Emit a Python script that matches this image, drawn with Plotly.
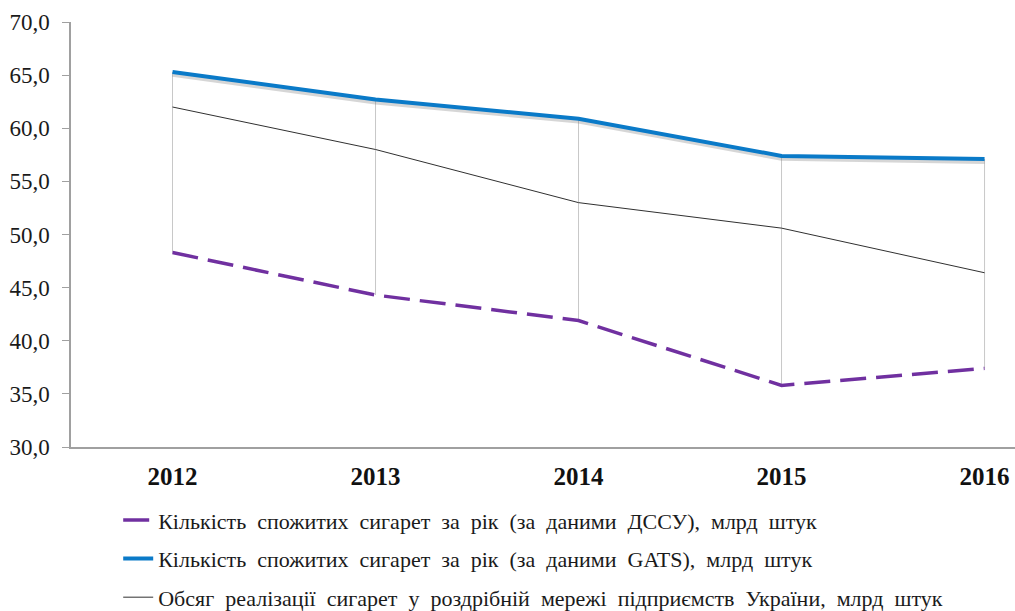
import plotly.graph_objects as go

years = ["2012", "2013", "2014", "2015", "2016"]
dssu = [48.3, 44.3, 41.9, 35.8, 37.4]
gats = [65.3, 62.7, 60.9, 57.4, 57.1]
retail = [62.0, 58.0, 53.0, 50.6, 46.4]
y_ticks = [30, 35, 40, 45, 50, 55, 60, 65, 70]

names = [
    "Кількість  спожитих  сигарет  за  рік  (за  даними  ДССУ),  млрд  штук",
    "Кількість  спожитих  сигарет  за  рік  (за  даними  GATS),  млрд  штук",
    "Обсяг  реалізації  сигарет  у  роздрібній  мережі  підприємств  України,  млрд  штук",
]

SERIF = "Times New Roman, Liberation Serif, serif"

fig = go.Figure()

# high-low drop lines
hx, hy = [], []
for i, yr in enumerate(years):
    hi = max(dssu[i], gats[i], retail[i])
    lo = min(dssu[i], gats[i], retail[i])
    hx += [yr, yr, None]
    hy += [hi, lo, None]
fig.add_trace(go.Scatter(x=hx, y=hy, mode="lines", line=dict(color="#c8c8c8", width=1),
                         showlegend=False, hoverinfo="skip"))

fig.add_trace(go.Scatter(x=years, y=dssu, mode="lines", name=names[0], legendgroup="a",
                         line=dict(color="#7030a0", width=3.5, dash="26px,10px")))
# shadow for GATS line
fig.add_trace(go.Scatter(x=years, y=[v - 0.22 for v in gats], mode="lines", showlegend=False,
                         line=dict(color="rgba(120,120,120,0.3)", width=5), hoverinfo="skip"))
fig.add_trace(go.Scatter(x=years, y=gats, mode="lines", name=names[1], legendgroup="b",
                         line=dict(color="#0a7ac8", width=4)))
fig.add_trace(go.Scatter(x=years, y=retail, mode="lines", name=names[2], legendgroup="c",
                         line=dict(color="#303030", width=1)))

fig.update_layout(
    width=1015, height=611,
    margin=dict(l=71, r=0, t=22, b=164),
    paper_bgcolor="white", plot_bgcolor="white",
    separators=", ",
    font=dict(family=SERIF, size=20, color="#1a1a1a"),
    showlegend=True,
    legend=dict(x=0.05, xref="paper", y=0.183, yref="container", xanchor="left", yanchor="top",
                font=dict(family=SERIF, size=22, color="#1a1a1a"),
                tracegroupgap=7, bgcolor="rgba(0,0,0,0)"),
    xaxis=dict(type="category", categoryorder="array", categoryarray=years,
               range=[-0.5, 4.15], showgrid=False, zeroline=False,
               showline=True, linecolor="#a0a0a0", linewidth=1.5,
               ticks="", ticklabelstandoff=6, ticklabeloverflow="allow",
               tickfont=dict(family=SERIF, size=25, color="#111111", weight="bold")),
    yaxis=dict(range=[30, 70], tickvals=y_ticks, tickformat=".1f", showgrid=False,
               zeroline=False, showline=True, linecolor="#a0a0a0", linewidth=1.5,
               ticks="outside", ticklen=7, tickcolor="#a0a0a0", ticklabelstandoff=8,
               tickfont=dict(family=SERIF, size=23, color="#1a1a1a")),
)

fig.write_html("out.html",
               config={"displayModeBar": False},
               post_script="document.body.style.margin='0';document.body.style.overflow='hidden';")
